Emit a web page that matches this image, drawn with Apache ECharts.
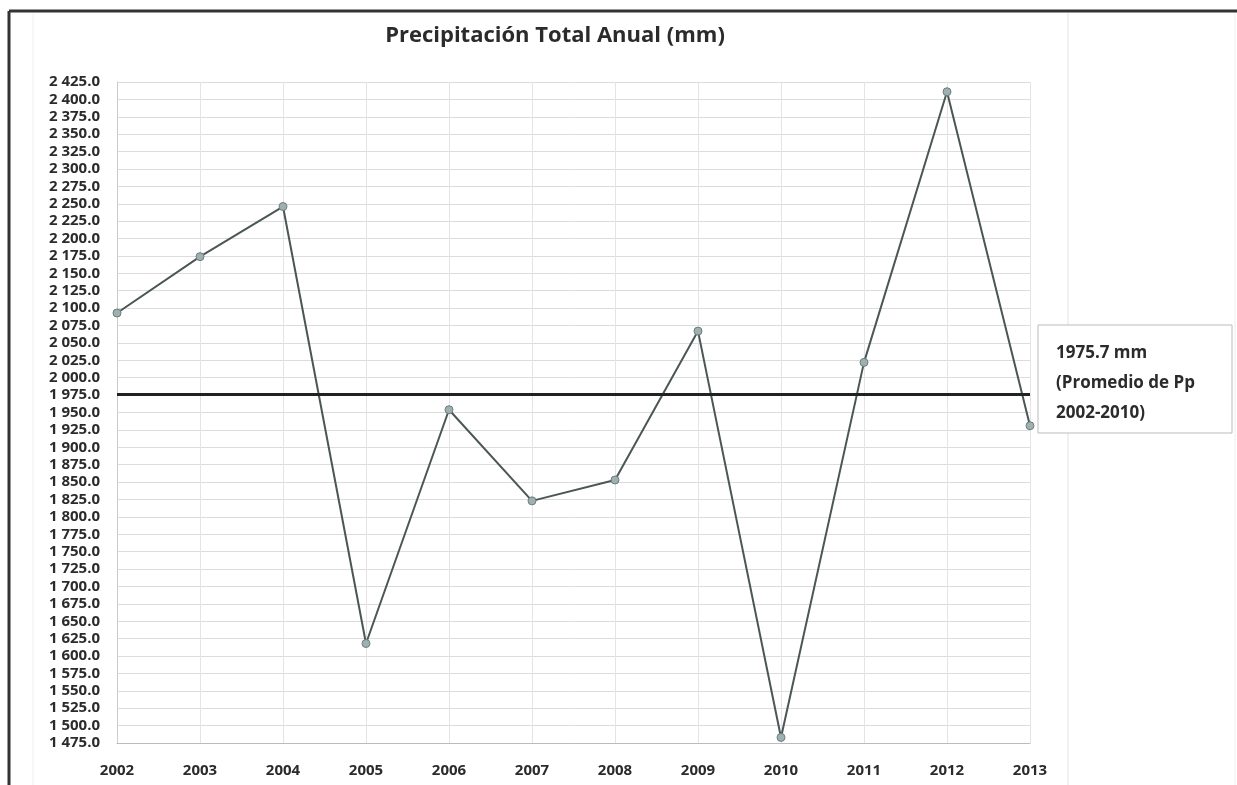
<!DOCTYPE html>
<html>
<head>
<meta charset="utf-8">
<script src="https://cdn.jsdelivr.net/npm/echarts@6/dist/echarts.min.js"></script>
<style>
  html, body { margin: 0; padding: 0; background: #fff; }
  #chart { width: 1237px; height: 785px; }
</style>
</head>
<body>
<div id="chart"></div>
<script>
  // años y precipitación total anual (mm)
  var years = ['2002', '2003', '2004', '2005', '2006', '2007', '2008', '2009', '2010', '2011', '2012', '2013'];
  var precip = [2093, 2174, 2246, 1618, 1954, 1823, 1853, 2067, 1483, 2022, 2411, 1931];
  var promedio = 1975.7;
  var yMin = 1475, yMax = 2425, yStep = 25;

  var chart = echarts.init(document.getElementById('chart'));

  function fmt(v) {
    var s = v.toFixed(1);
    var parts = s.split('.');
    var ent = parts[0].replace(/\B(?=(\d{3})+(?!\d))/g, ' ');
    return ent + '.' + parts[1];
  }

  var option = {
    backgroundColor: '#fff',
    animation: false,
    textStyle: { fontFamily: 'Open Sans' },
    title: {
      text: 'Precipitación Total Anual (mm)',
      left: 550,
      textAlign: 'center',
      top: 20,
      textStyle: { fontSize: 22, fontWeight: 'bold', color: '#2b2b2b', fontFamily: 'Open Sans' }
    },
    grid: { left: 117, right: 207, top: 82, bottom: 42 },
    xAxis: {
      type: 'category',
      data: years,
      boundaryGap: false,
      axisLine: { show: true, lineStyle: { color: '#bbb' } },
      axisTick: { show: false },
      axisLabel: { margin: 20, fontSize: 15, fontWeight: 'bold', color: '#2b2b2b', fontFamily: 'Open Sans' },
      splitLine: { show: true, lineStyle: { color: '#e4e4e4' } }
    },
    yAxis: {
      type: 'value',
      min: yMin,
      max: yMax,
      interval: yStep,
      axisLine: { show: true, lineStyle: { color: '#ccc' } },
      axisTick: { show: false },
      axisLabel: {
        margin: 17,
        fontSize: 15,
        fontWeight: 'bold',
        color: '#2b2b2b',
        fontFamily: 'Open Sans',
        formatter: fmt
      },
      splitLine: { lineStyle: { color: '#dcdcdc' } }
    },
    series: [{
      type: 'line',
      data: precip,
      symbol: 'circle',
      symbolSize: 8,
      lineStyle: { color: '#4b5656', width: 2 },
      itemStyle: { color: '#9fb0b0', borderColor: '#6d7d7d', borderWidth: 1 },
      markLine: {
        silent: true,
        symbol: 'none',
        label: { show: false },
        lineStyle: { color: '#222', width: 3, type: 'solid' },
        data: [{ yAxis: promedio }]
      }
    }],
    graphic: [
      // marco exterior
      { type: 'line', shape: { x1: 9, y1: 11, x2: 1237, y2: 11 }, style: { stroke: '#333', lineWidth: 3 } },
      { type: 'line', shape: { x1: 9, y1: 11, x2: 9, y2: 785 }, style: { stroke: '#333', lineWidth: 3 } },
      { type: 'line', shape: { x1: 33, y1: 13, x2: 33, y2: 785 }, style: { stroke: '#eee', lineWidth: 1 } },
      { type: 'line', shape: { x1: 1068, y1: 13, x2: 1068, y2: 785 }, style: { stroke: '#e2e2e2', lineWidth: 1 } },
      { type: 'line', shape: { x1: 1235, y1: 13, x2: 1235, y2: 785 }, style: { stroke: '#eee', lineWidth: 1 } },
      // cuadro del promedio
      {
        type: 'rect',
        shape: { x: 1038, y: 325, width: 194, height: 108 },
        style: { fill: '#fff', stroke: '#bbb', lineWidth: 1 }
      },
      {
        type: 'text',
        x: 1056, y: 338,
        style: {
          text: '1975.7 mm\n(Promedio de Pp\n2002-2010)',
          fontSize: 17,
          fontWeight: 'bold',
          lineHeight: 30,
          fill: '#2b2b2b',
          fontFamily: 'Open Sans'
        }
      }
    ]
  };

  chart.setOption(option);
</script>
</body>
</html>
